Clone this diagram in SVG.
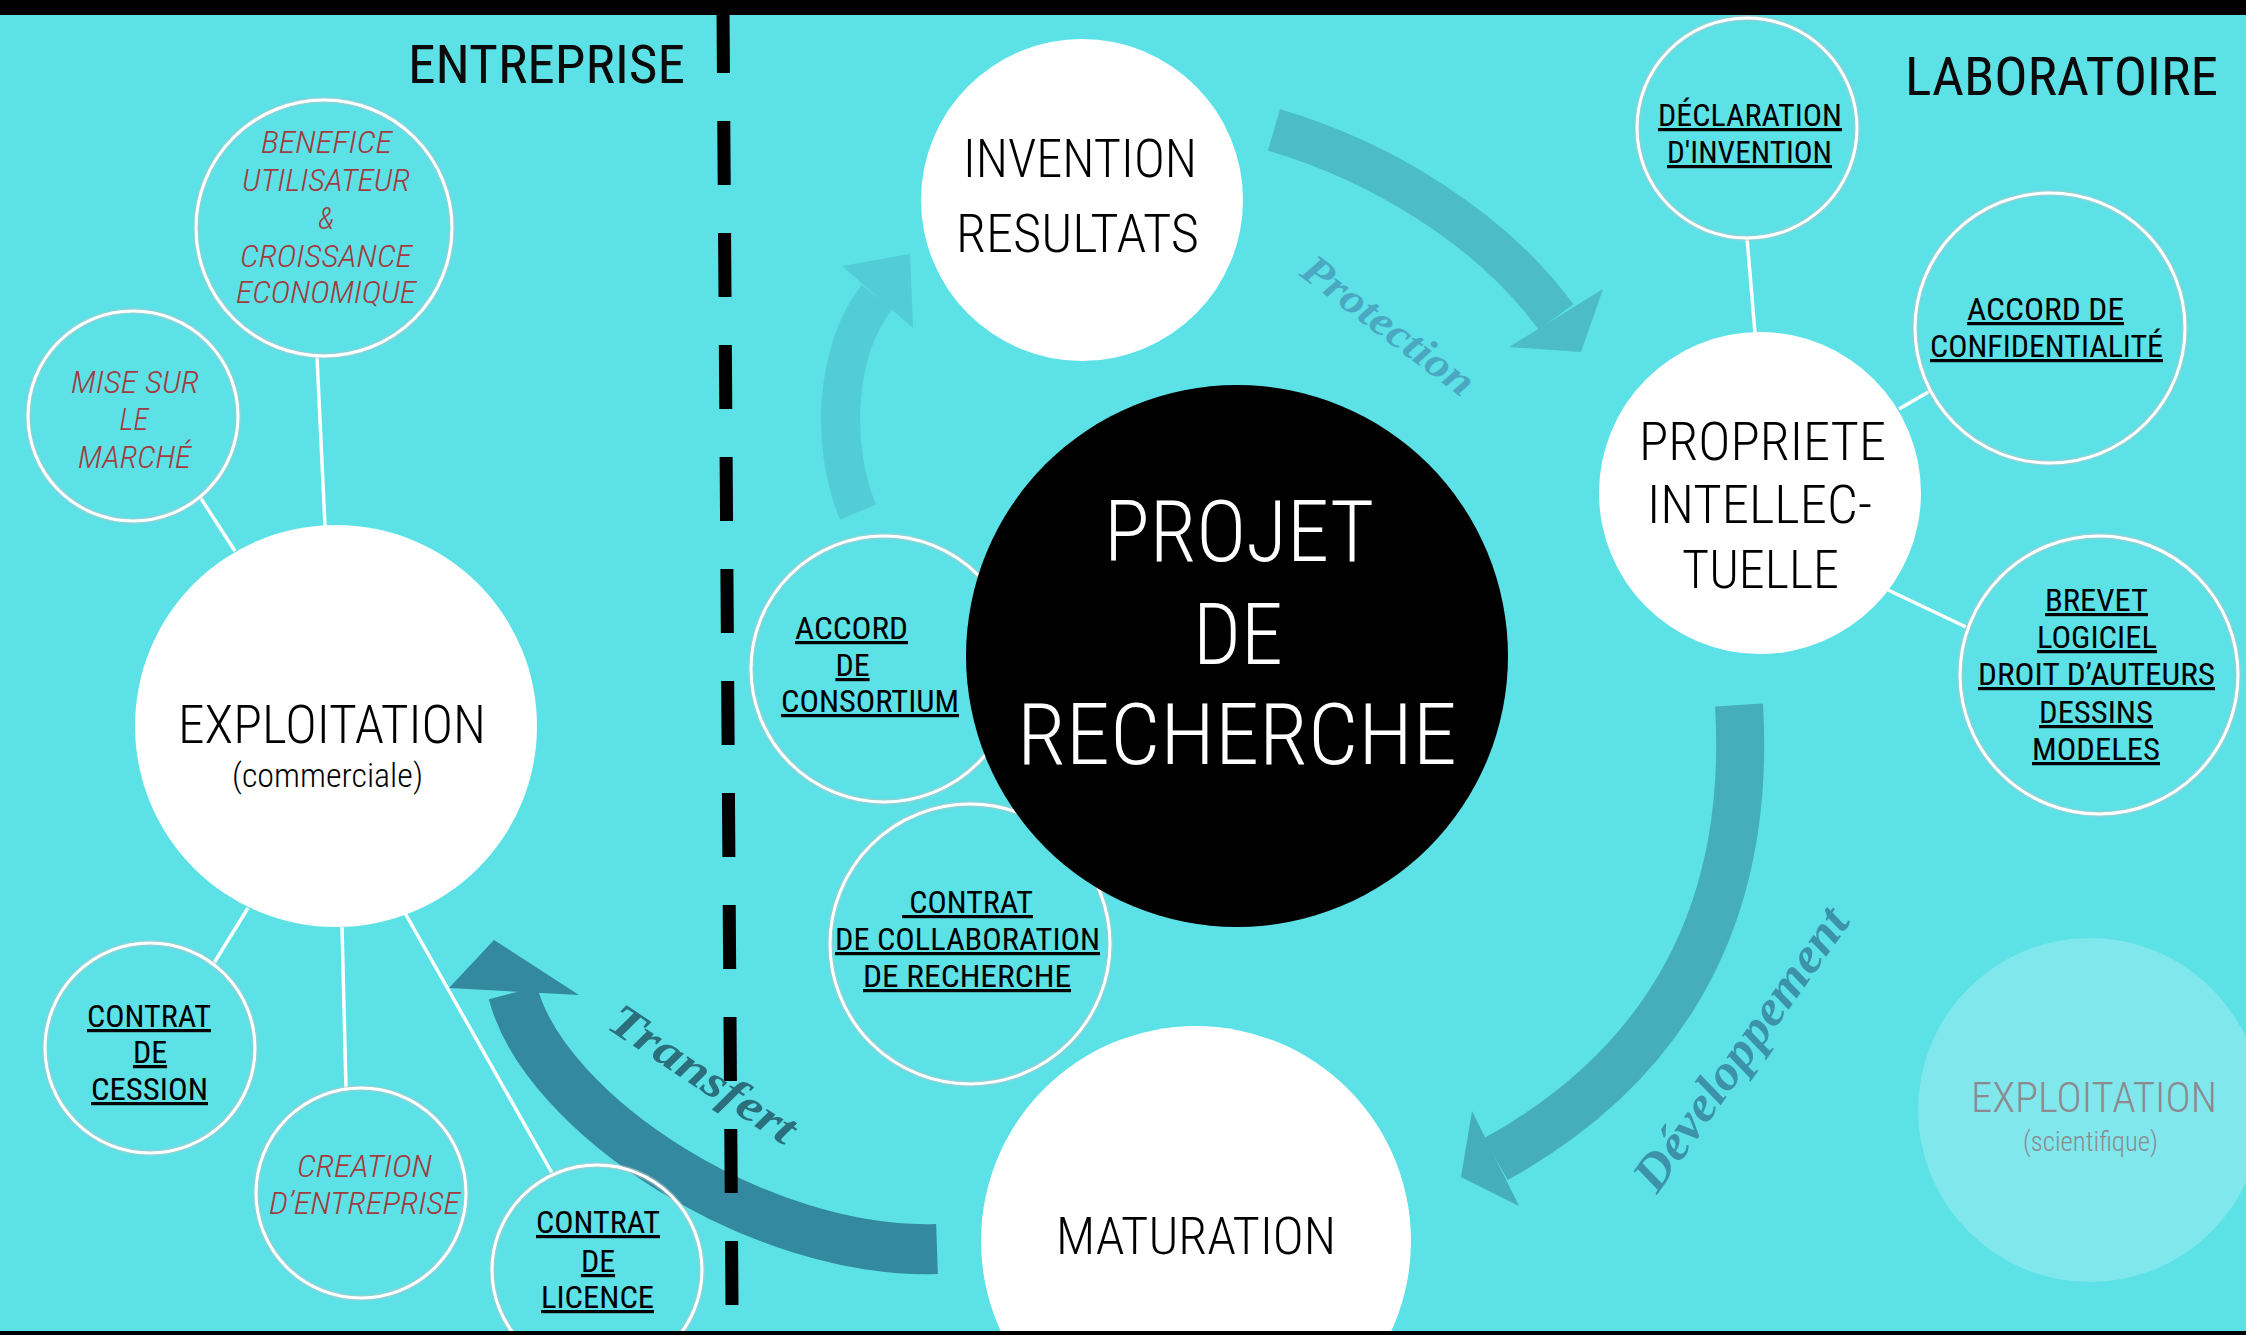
<svg xmlns="http://www.w3.org/2000/svg" width="2246" height="1335" viewBox="0 0 2246 1335">
<style>
.t{font-family:"Liberation Sans Narrow","Roboto Condensed","DejaVu Sans Condensed","Liberation Sans",Arial,sans-serif;text-anchor:middle;font-weight:300}
.u{font-size:32px;fill:#000;text-decoration:underline;font-weight:400}
.red{font-size:31px;fill:#a23b3e;font-style:italic}
.big{font-size:53px;fill:#000}
.ring{fill:none;stroke:#ffffff;stroke-width:3}
.ringS{fill:none;stroke:#b8c6c8;stroke-width:6;opacity:.55}
.wc{fill:#ffffff}
.link{stroke:#ffffff;stroke-width:3.5;fill:none}
.flow{fill:none;stroke-linecap:butt}
.script{font-family:"Liberation Serif","DejaVu Serif",serif;font-style:italic;font-weight:bold;text-anchor:middle}
</style>
<rect x="0" y="0" width="2246" height="1335" fill="#5ce1e6"/>

<g id="connectors">
  <line class="link" x1="200" y1="497" x2="235" y2="551"/>
  <line class="link" x1="317" y1="357" x2="325" y2="526"/>
  <line class="link" x1="248" y1="908" x2="214" y2="963"/>
  <line class="link" x1="342" y1="927" x2="346" y2="1088"/>
  <line class="link" x1="405" y1="913" x2="552" y2="1173"/>
  <line class="link" x1="1747" y1="238" x2="1755" y2="333"/>
  <line class="link" x1="1899" y1="409" x2="1930" y2="391"/>
  <line class="link" x1="1888" y1="590" x2="1966" y2="627"/>
  <g id="arrow-recherche">
    <path class="flow" d="M858 512 C831 448 834 352 877 297" stroke="#52ccd7" stroke-width="39"/>
    <polygon points="842,266 910,254 913,328" fill="#52ccd7"/>
  </g>
  <g id="arrow-protection">
    <path class="flow" d="M1274 130 C1380 161 1491 228 1556 317" stroke="#4bbcc8" stroke-width="43"/>
    <polygon points="1509,347 1581,352 1603,289" fill="#4bbcc8"/>
  </g>
  <g id="arrow-developpement">
    <path class="flow" d="M1739 705 C1754 955 1628 1086 1496 1159" stroke="#45adbc" stroke-width="48"/>
    <polygon points="1472,1111 1461,1177 1519,1206" fill="#45adbc"/>
  </g>
  <g id="arrow-transfert">
    <path class="flow" d="M937 1249 C760 1255 545 1115 513 993" stroke="#33899f" stroke-width="50"/>
    <polygon points="449,988 494,940 579,995" fill="#33899f"/>
  </g>
</g>

<g id="benefice">
  <circle class="ringS" cx="324" cy="228" r="128"/>
  <circle class="ring" cx="324" cy="228" r="128"/>
  <text class="t red" x="326.5" y="153" textLength="131" lengthAdjust="spacingAndGlyphs">BENEFICE</text>
  <text class="t red" x="326" y="191" textLength="168" lengthAdjust="spacingAndGlyphs">UTILISATEUR</text>
  <text class="t red" x="326" y="229">&amp;</text>
  <text class="t red" x="326" y="267" textLength="172" lengthAdjust="spacingAndGlyphs">CROISSANCE</text>
  <text class="t red" x="326" y="303" textLength="180" lengthAdjust="spacingAndGlyphs">ECONOMIQUE</text>
</g>

<g id="mise-sur-le-marche">
  <circle class="ringS" cx="133" cy="416" r="105"/>
  <circle class="ring" cx="133" cy="416" r="105"/>
  <text class="t red" x="135" y="393" textLength="128" lengthAdjust="spacingAndGlyphs">MISE SUR</text>
  <text class="t red" x="134" y="430">LE</text>
  <text class="t red" x="134.5" y="468" textLength="113" lengthAdjust="spacingAndGlyphs">MARCHÉ</text>
</g>

<g id="contrat-cession">
  <circle class="ringS" cx="150" cy="1048" r="105"/>
  <circle class="ring" cx="150" cy="1048" r="105"/>
  <text class="t u" x="149" y="1027" textLength="124" lengthAdjust="spacingAndGlyphs">CONTRAT</text>
  <text class="t u" x="150" y="1063">DE</text>
  <text class="t u" x="149.5" y="1100" textLength="117" lengthAdjust="spacingAndGlyphs">CESSION</text>
</g>

<g id="creation-entreprise">
  <circle class="ringS" cx="361" cy="1193" r="105"/>
  <circle class="ring" cx="361" cy="1193" r="105"/>
  <text class="t red" x="364.5" y="1177" textLength="135" lengthAdjust="spacingAndGlyphs">CREATION</text>
  <text class="t red" x="364.5" y="1214" textLength="191" lengthAdjust="spacingAndGlyphs">D’ENTREPRISE</text>
</g>

<g id="contrat-licence">
  <circle class="ringS" cx="597" cy="1270" r="105"/>
  <circle class="ring" cx="597" cy="1270" r="105"/>
  <text class="t u" x="598" y="1233" textLength="124" lengthAdjust="spacingAndGlyphs">CONTRAT</text>
  <text class="t u" x="598" y="1272">DE</text>
  <text class="t u" x="597.5" y="1308" textLength="113" lengthAdjust="spacingAndGlyphs">LICENCE</text>
</g>

<g id="exploitation-commerciale">
  <circle class="wc" cx="336" cy="726" r="201"/>
  <text class="t big" x="332" y="743" textLength="308" lengthAdjust="spacingAndGlyphs">EXPLOITATION</text>
  <text class="t" x="327.5" y="787" font-size="33" fill="#000" textLength="191" lengthAdjust="spacingAndGlyphs">(commerciale)</text>
</g>

<g id="accord-consortium">
  <circle class="ringS" cx="884" cy="669" r="133"/>
  <circle class="ring" cx="884" cy="669" r="133"/>
  <text class="t u" x="851.5" y="639" textLength="113" lengthAdjust="spacingAndGlyphs">ACCORD</text>
  <text class="t u" x="852.5" y="676">DE</text>
  <text class="t u" x="870" y="712" textLength="178" lengthAdjust="spacingAndGlyphs">CONSORTIUM</text>
</g>

<g id="contrat-collaboration">
  <circle class="ringS" cx="970" cy="944" r="140"/>
  <circle class="ring" cx="970" cy="944" r="140"/>
  <text class="t u" x="967.5" y="913" textLength="131" lengthAdjust="spacingAndGlyphs" style="white-space:pre"> CONTRAT</text>
  <text class="t u" x="967.5" y="950" textLength="265" lengthAdjust="spacingAndGlyphs">DE COLLABORATION</text>
  <text class="t u" x="967" y="987" textLength="208" lengthAdjust="spacingAndGlyphs">DE RECHERCHE</text>
</g>

<g id="invention-resultats">
  <circle class="wc" cx="1082" cy="200" r="161"/>
  <text class="t big" x="1080" y="177" textLength="234" lengthAdjust="spacingAndGlyphs">INVENTION</text>
  <text class="t big" x="1077.5" y="252" textLength="243" lengthAdjust="spacingAndGlyphs">RESULTATS</text>
</g>

<g id="projet-de-recherche">
  <circle cx="1237" cy="656" r="271" fill="#000"/>
  <text class="t" x="1239" y="561" font-size="85" fill="#fff" textLength="270" lengthAdjust="spacingAndGlyphs">PROJET</text>
  <text class="t" x="1238" y="664" font-size="85" fill="#fff" textLength="90" lengthAdjust="spacingAndGlyphs">DE</text>
  <text class="t" x="1237" y="764" font-size="85" fill="#fff" textLength="440" lengthAdjust="spacingAndGlyphs">RECHERCHE</text>
</g>

<g id="maturation">
  <circle class="wc" cx="1196" cy="1241" r="215"/>
  <text class="t" x="1196" y="1254" font-size="52" fill="#000" textLength="280" lengthAdjust="spacingAndGlyphs">MATURATION</text>
</g>

<g id="declaration-invention">
  <circle class="ringS" cx="1747" cy="128" r="110"/>
  <circle class="ring" cx="1747" cy="128" r="110"/>
  <text class="t u" x="1750" y="126" font-size="33" textLength="184" lengthAdjust="spacingAndGlyphs">DÉCLARATION</text>
  <text class="t u" x="1749.5" y="163" font-size="33" textLength="165" lengthAdjust="spacingAndGlyphs">D'INVENTION</text>
</g>

<g id="accord-confidentialite">
  <circle class="ringS" cx="2050" cy="328" r="135"/>
  <circle class="ring" cx="2050" cy="328" r="135"/>
  <text class="t u" x="2045.5" y="320" textLength="157" lengthAdjust="spacingAndGlyphs">ACCORD DE</text>
  <text class="t u" x="2046.5" y="357" textLength="233" lengthAdjust="spacingAndGlyphs">CONFIDENTIALITÉ</text>
</g>

<g id="propriete-intellectuelle">
  <circle class="wc" cx="1760" cy="493" r="161"/>
  <text class="t big" x="1762.5" y="460" textLength="247" lengthAdjust="spacingAndGlyphs">PROPRIETE</text>
  <text class="t big" x="1759.5" y="523" textLength="225" lengthAdjust="spacingAndGlyphs">INTELLEC-</text>
  <text class="t big" x="1760.5" y="588" textLength="157" lengthAdjust="spacingAndGlyphs">TUELLE</text>
</g>

<g id="brevet">
  <circle class="ringS" cx="2099" cy="675" r="139"/>
  <circle class="ring" cx="2099" cy="675" r="139"/>
  <text class="t u" x="2096.5" y="611" textLength="103" lengthAdjust="spacingAndGlyphs">BREVET</text>
  <text class="t u" x="2097" y="648" textLength="120" lengthAdjust="spacingAndGlyphs">LOGICIEL</text>
  <text class="t u" x="2096.5" y="685" textLength="237" lengthAdjust="spacingAndGlyphs">DROIT D’AUTEURS</text>
  <text class="t u" x="2096" y="723" textLength="114" lengthAdjust="spacingAndGlyphs">DESSINS</text>
  <text class="t u" x="2096" y="760" textLength="128" lengthAdjust="spacingAndGlyphs">MODELES</text>
</g>

<g id="exploitation-scientifique">
  <circle cx="2090" cy="1110" r="172" fill="#80e7ec"/>
  <text class="t" x="2094" y="1112" font-size="43" fill="#8d8a8f" textLength="246" lengthAdjust="spacingAndGlyphs">EXPLOITATION</text>
  <text class="t" x="2090.5" y="1151" font-size="28" fill="#8d8a8f" textLength="135" lengthAdjust="spacingAndGlyphs">(scientifique)</text>
</g>

<g id="frame">
  <rect x="0" y="0" width="2246" height="15" fill="#000"/>
  <rect x="0" y="1331" width="2246" height="4" fill="#000"/>
  <line x1="723" y1="9" x2="732" y2="1305" stroke="#000" stroke-width="13" stroke-dasharray="64 48"/>
</g>

<g id="labels">
  <text class="t" x="546.5" y="83" font-size="53" fill="#0a0a0a" style="font-weight:400" textLength="277" lengthAdjust="spacingAndGlyphs">ENTREPRISE</text>
  <text class="t" x="2061.5" y="95" font-size="53" fill="#0a0a0a" style="font-weight:400" textLength="313" lengthAdjust="spacingAndGlyphs">LABORATOIRE</text>
  <text class="script" transform="translate(1388 326) rotate(37)" x="0" y="13" font-size="42" fill="#4aa8c2" textLength="205" lengthAdjust="spacingAndGlyphs">Protection</text>
  <text class="script" transform="translate(703 1074) rotate(33.5)" x="0" y="15" font-size="46" fill="#2b6e7c" textLength="215" lengthAdjust="spacingAndGlyphs">Transfert</text>
  <text class="script" transform="translate(1741 1049) rotate(-54.6)" x="0" y="16" font-size="50" fill="#3c92aa" textLength="335" lengthAdjust="spacingAndGlyphs">Développement</text>
</g>
</svg>
